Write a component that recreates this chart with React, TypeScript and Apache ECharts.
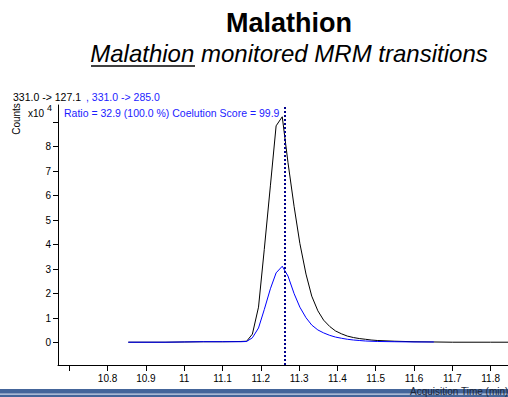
import React, { useEffect, useRef } from "react";
import * as echarts from "echarts";

// Acquisition times (min) and abundances (x10^4 counts) of the two MRM transitions
const quantTimes = [
  10.854, 10.95, 11.0, 11.05, 11.1, 11.148, 11.163, 11.178, 11.194, 11.209, 11.225, 11.24,
  11.256, 11.271, 11.287, 11.302, 11.318, 11.333, 11.349, 11.364, 11.38, 11.395, 11.411,
  11.426, 11.442, 11.457, 11.473, 11.488, 11.504, 11.55, 11.6, 11.65, 11.7, 11.8, 11.86,
];
const quantCounts = [
  0.02, 0.02, 0.03, 0.04, 0.04, 0.05, 0.06, 0.35, 1.45, 3.8, 6.4, 8.85,
  9.22, 7.35, 5.55, 4.05, 2.8, 1.9, 1.3, 0.92, 0.66, 0.48, 0.36,
  0.27, 0.21, 0.17, 0.14, 0.11, 0.09, 0.06, 0.04, 0.03, 0.02, 0.02, 0.02,
];

const qualTimes = [
  10.854, 10.95, 11.0, 11.05, 11.1, 11.148, 11.163, 11.178, 11.194, 11.209, 11.225, 11.24,
  11.256, 11.271, 11.287, 11.302, 11.318, 11.333, 11.349, 11.364, 11.38, 11.395, 11.411,
  11.426, 11.442, 11.457, 11.473, 11.504, 11.55, 11.6, 11.652,
];
const qualCounts = [
  0.02, 0.02, 0.03, 0.04, 0.04, 0.04, 0.05, 0.2, 0.6, 1.35, 2.2, 2.85,
  3.12, 2.72, 2.0, 1.45, 1.02, 0.72, 0.52, 0.4, 0.3, 0.23, 0.18,
  0.14, 0.11, 0.09, 0.07, 0.05, 0.04, 0.03, 0.03,
];

const retentionTime = 11.263;

const xTickValues = [10.7, 10.8, 10.9, 11.0, 11.1, 11.2, 11.3, 11.4, 11.5, 11.6, 11.7, 11.8];
const xLabelValues = [10.8, 10.9, 11.0, 11.1, 11.2, 11.3, 11.4, 11.5, 11.6, 11.7, 11.8];
const yTickValues = [0, 1, 2, 3, 4, 5, 6, 7, 8, 9];
const yLabelValues = [0, 1, 2, 3, 4, 5, 6, 7, 8];

const X_MIN = 10.6705;
const X_MAX = 11.8454;
const Y_MIN = -0.91;
const Y_MAX = 9.7;

const FONT = "'Liberation Sans', Arial, Helvetica, sans-serif";
const BLUE = "#1c1cff";

const zip = (xs: number[], ys: number[]) => xs.map((x, i) => [x, ys[i]]);

export default function App() {
  const ref = useRef<HTMLDivElement>(null);

  useEffect(() => {
    if (!ref.current) return;
    const chart = echarts.init(ref.current, undefined, { renderer: "svg" });

    const txt = (
      text: string,
      x: number,
      y: number,
      opts: Record<string, unknown> = {},
      extra: Record<string, unknown> = {}
    ) => ({
      type: "text",
      x,
      y,
      silent: true,
      ...extra,
      style: {
        text,
        fill: "#000",
        fontFamily: FONT,
        fontSize: 10.5,
        align: "left",
        verticalAlign: "middle",
        ...opts,
      },
    });

    chart.setOption({
      animation: false,
      backgroundColor: "#ffffff",
      grid: {
        left: 58,
        top: 105,
        width: 450,
        height: 260,
        containLabel: false,
        outerBoundsMode: "none",
      },
      xAxis: {
        type: "value",
        min: X_MIN,
        max: X_MAX,
        axisLine: { show: true, onZero: false, lineStyle: { color: "#000", width: 1 } },
        axisTick: {
          show: true,
          length: 6,
          customValues: xTickValues,
          lineStyle: { color: "#000", width: 1 },
        },
        axisLabel: {
          customValues: xLabelValues,
          formatter: (v: number) => String(Number(v.toFixed(1))),
          fontFamily: FONT,
          fontSize: 10,
          color: "#000",
          margin: 8,
        },
        splitLine: { show: false },
      },
      yAxis: {
        type: "value",
        min: Y_MIN,
        max: Y_MAX,
        axisLine: { show: true, onZero: false, lineStyle: { color: "#000", width: 1 } },
        axisTick: {
          show: true,
          length: 5,
          customValues: yTickValues,
          lineStyle: { color: "#000", width: 1 },
        },
        axisLabel: {
          customValues: yLabelValues,
          fontFamily: FONT,
          fontSize: 10,
          color: "#000",
          margin: 7,
        },
        splitLine: { show: false },
      },
      series: [
        {
          name: "331.0 -> 127.1",
          type: "line",
          data: zip(quantTimes, quantCounts),
          showSymbol: false,
          symbol: "none",
          lineStyle: { color: "#000", width: 1 },
          silent: true,
          z: 2,
        },
        {
          name: "331.0 -> 285.0",
          type: "line",
          data: zip(qualTimes, qualCounts),
          showSymbol: false,
          symbol: "none",
          lineStyle: { color: "#0000ff", width: 1 },
          silent: true,
          z: 3,
          markLine: {
            silent: true,
            symbol: "none",
            label: { show: false },
            lineStyle: { color: "#00008b", width: 2, type: [2, 2] },
            data: [[{ coord: [retentionTime, Y_MIN] }, { coord: [retentionTime, Y_MAX] }]],
          },
        },
      ],
      graphic: [
        txt("Malathion", 289, 23, { fontSize: 27, fontWeight: "bold", align: "center" }),
        txt("Malathion monitored MRM transitions", 289, 53, {
          fontSize: 24,
          fontStyle: "italic",
          align: "center",
        }),
        {
          type: "line",
          silent: true,
          shape: { x1: 91, y1: 66, x2: 195, y2: 66 },
          style: { stroke: "#000", lineWidth: 1.5 },
        },
        txt("331.0 -> 127.1", 13, 97),
        txt(", 331.0 -> 285.0", 86, 97, { fill: BLUE }),
        txt("Ratio = 32.9 (100.0 %) Coelution Score = 99.9", 64, 113, { fill: BLUE }),
        txt("x10", 28, 113, { fontSize: 10 }),
        txt("4", 47, 108, { fontSize: 9 }),
        txt("Counts", 16, 119, { fontSize: 10, align: "center" }, { rotation: Math.PI / 2 }),
        {
          type: "rect",
          silent: true,
          shape: { x: 0, y: 389, width: 508, height: 8 },
          style: { fill: "#44659a" },
        },
        {
          type: "rect",
          silent: true,
          shape: { x: 0, y: 393.6, width: 508, height: 1.2 },
          style: { fill: "#c9d4e6" },
        },
        txt("Acquisition Time (min)", 410, 396.5, {
          fontSize: 10,
          verticalAlign: "bottom",
          fill: "#1b2638",
        }),
      ],
    });

    return () => chart.dispose();
  }, []);

  return (
    <div
      ref={ref}
      style={{ position: "fixed", left: 0, top: 0, width: 508, height: 397, background: "#fff" }}
    />
  );
}
